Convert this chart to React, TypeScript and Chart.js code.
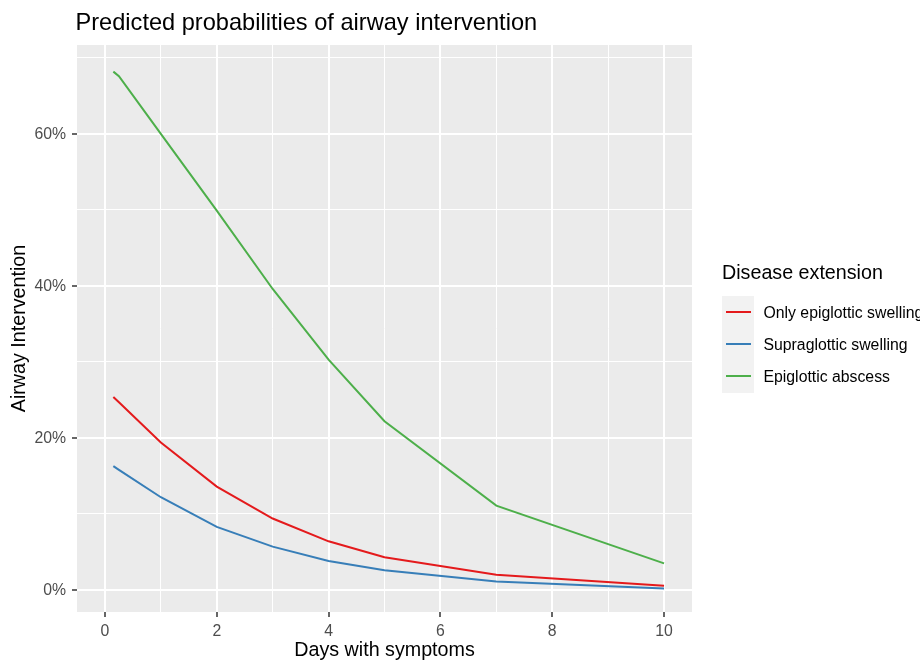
import React, { useEffect, useRef } from 'react';
import Chart from 'chart.js/auto';

// values (percent)
const days = [0.15, 0.25, 1, 2, 3, 4, 5, 7, 10];
const onlyEpiglottic = [25.4, 24.7, 19.4, 13.6, 9.4, 6.4, 4.3, 2.0, 0.55];
const supraglottic = [16.3, 15.8, 12.2, 8.3, 5.7, 3.8, 2.6, 1.1, 0.2];
const epiglotticAbscess = [68.2, 67.6, 60.0, 49.9, 39.6, 30.3, 22.2, 11.1, 3.5];

const seriesNames = ['Only epiglottic swelling', 'Supraglottic swelling', 'Epiglottic abscess'];
const seriesColors = ['#E41A1C', '#377EB8', '#4DAF4A'];

const xTicks = [0, 1, 2, 3, 4, 5, 6, 7, 8, 9, 10];
const yTicks = [0, 10, 20, 30, 40, 50, 60, 70];

const FONT = "'Liberation Sans', Arial, sans-serif";

const panelBg = {
  id: 'panelBg',
  beforeDraw(chart) {
    const { ctx, chartArea: a } = chart;
    ctx.save();
    ctx.fillStyle = '#ebebeb';
    ctx.fillRect(a.left, a.top, a.right - a.left, a.bottom - a.top);
    ctx.restore();
  },
};

function App() {
  const chartRef = useRef(null);

  useEffect(() => {
    const ctx = chartRef.current?.getContext('2d');
    const allSeries = [onlyEpiglottic, supraglottic, epiglotticAbscess];
    const chart = new Chart(ctx, {
      type: 'line',
      data: {
        datasets: allSeries.map((vals, i) => ({
          label: seriesNames[i],
          data: days.map((d, j) => ({ x: d, y: vals[j] })),
          borderColor: seriesColors[i],
          backgroundColor: seriesColors[i],
          borderWidth: 2,
          pointRadius: 0,
          tension: 0,
          fill: false,
        })),
      },
      options: {
        animation: false,
        responsive: true,
        maintainAspectRatio: false,
        layout: { padding: { top: 45, right: 228, bottom: 0, left: 0 } },
        plugins: {
          legend: { display: false },
          title: { display: false },
          tooltip: { enabled: false },
        },
        scales: {
          x: {
            type: 'linear',
            min: -0.5,
            max: 10.5,
            afterBuildTicks: (scale) => {
              scale.ticks = xTicks.map((v) => ({ value: v }));
            },
            afterFit: (scale) => {
              scale.height = 52;
            },
            border: { display: false },
            grid: {
              color: '#ffffff',
              lineWidth: (c) => (c.tick && c.tick.value % 2 === 0 ? 2 : 1),
              tickColor: (c) => (c.tick && c.tick.value % 2 === 0 ? '#333333' : 'rgba(0,0,0,0)'),
              tickWidth: 1.5,
              tickLength: 5,
            },
            ticks: {
              autoSkip: false,
              maxRotation: 0,
              padding: 5,
              color: '#4d4d4d',
              font: { family: FONT, size: 15.8 },
              callback: (v) => (v % 2 === 0 ? String(v) : ''),
            },
            title: {
              display: true,
              text: 'Days with symptoms',
              color: '#000000',
              font: { family: FONT, size: 19.7 },
              padding: { top: 0, bottom: 2 },
            },
          },
          y: {
            type: 'linear',
            min: -2.9,
            max: 71.7,
            afterBuildTicks: (scale) => {
              scale.ticks = yTicks.map((v) => ({ value: v }));
            },
            afterFit: (scale) => {
              scale.width = 77;
            },
            border: { display: false },
            grid: {
              color: '#ffffff',
              lineWidth: (c) => (c.tick && c.tick.value % 20 === 0 ? 2 : 1),
              tickColor: (c) => (c.tick && c.tick.value % 20 === 0 ? '#333333' : 'rgba(0,0,0,0)'),
              tickWidth: 1.5,
              tickLength: 5,
            },
            ticks: {
              autoSkip: false,
              padding: 6,
              labelOffset: 1,
              color: '#4d4d4d',
              font: { family: FONT, size: 15.8 },
              callback: (v) => (v % 20 === 0 ? v + '%' : ''),
            },
            title: {
              display: true,
              text: 'Airway Intervention',
              color: '#000000',
              font: { family: FONT, size: 19.7 },
              padding: { top: 8, bottom: 0 },
            },
          },
        },
      },
      plugins: [panelBg],
    });

    return () => {
      chart.destroy();
    };
  }, []);

  return (
    <div
      style={{
        position: 'absolute',
        left: 0,
        top: 0,
        width: 920,
        height: 664,
        background: '#ffffff',
        overflow: 'hidden',
        fontFamily: FONT,
      }}
    >
      <canvas ref={chartRef} />
      <div
        style={{
          position: 'absolute',
          left: 75.5,
          top: 10,
          fontSize: 23.6,
          lineHeight: '24px',
          color: '#000',
          whiteSpace: 'nowrap',
        }}
      >
        Predicted probabilities of airway intervention
      </div>
      <div style={{ position: 'absolute', left: 722, top: 261.5, whiteSpace: 'nowrap' }}>
        <div style={{ fontSize: 19.7, lineHeight: '20px', color: '#000' }}>Disease extension</div>
      </div>
      <div style={{ position: 'absolute', left: 722, top: 295.7, whiteSpace: 'nowrap' }}>
        {seriesNames.map((name, i) => (
          <div key={name} style={{ display: 'flex', alignItems: 'center', height: 32.3 }}>
            <div
              style={{
                width: 32,
                height: 32.3,
                background: '#f2f2f2',
                display: 'flex',
                alignItems: 'center',
                justifyContent: 'center',
              }}
            >
              <div style={{ width: 25, height: 2, background: seriesColors[i] }} />
            </div>
            <div style={{ marginLeft: 9.5, fontSize: 15.8, paddingTop: 2, color: '#000' }}>{name}</div>
          </div>
        ))}
      </div>
    </div>
  );
}

export default App;
